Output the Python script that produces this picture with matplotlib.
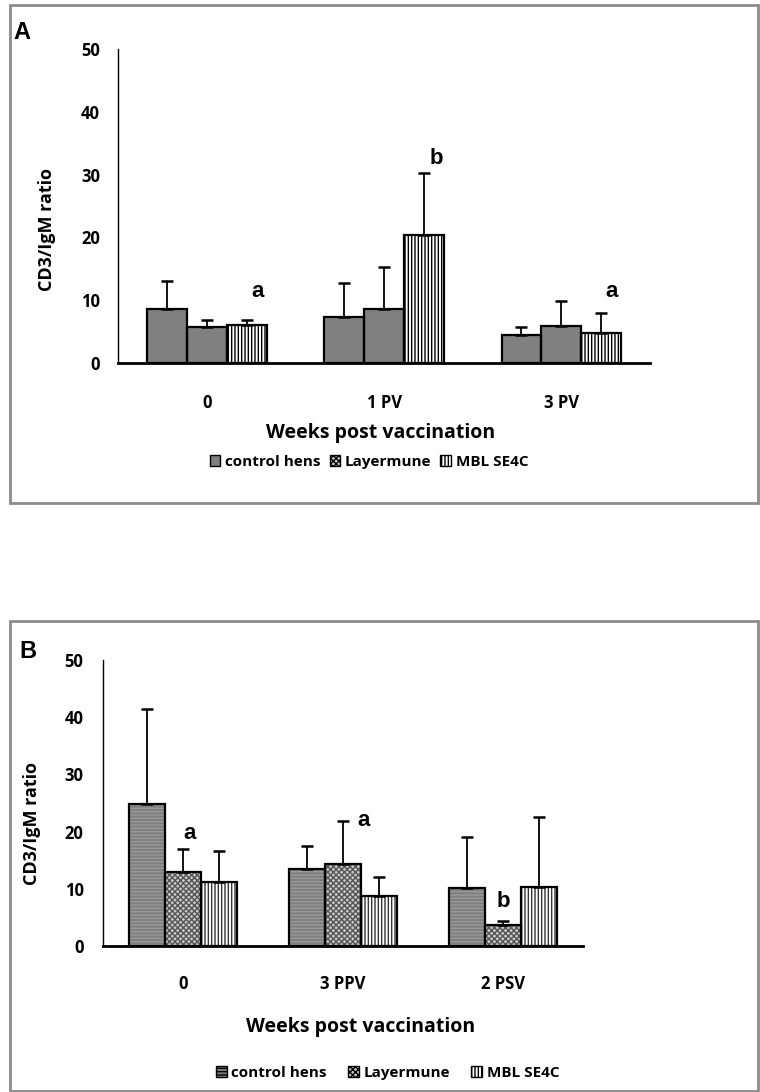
import matplotlib
matplotlib.use("Agg")
import matplotlib.pyplot as plt
from matplotlib.patches import Patch, Rectangle
import numpy as np

# Data - panel A
groups_a = ["0", "1 PV", "3 PV"]
control_a = [8.6, 7.35, 4.5]
control_a_sd = [4.4, 5.35, 1.25]
layer_a = [5.75, 8.6, 5.85]
layer_a_sd = [1.15, 6.7, 4.0]
mbl_a = [6.1, 20.4, 4.85]
mbl_a_sd = [0.8, 9.8, 3.15]
# (group, series, letter, y)
letters_a = [(0, 2, "a", 11.4), (1, 2, "b", 32.6), (2, 2, "a", 11.4)]

# Data - panel B
groups_b = ["0", "3 PPV", "2 PSV"]
control_b = [24.8, 13.5, 10.1]
control_b_sd = [16.6, 3.9, 9.0]
layer_b = [12.9, 14.3, 3.7]
layer_b_sd = [4.0, 7.6, 0.6]
mbl_b = [11.2, 8.7, 10.4]
mbl_b_sd = [5.4, 3.4, 12.2]
letters_b = [(0, 1, "a", 19.6), (1, 1, "a", 22.0), (2, 1, "b", 7.8)]

series_names = ["control hens", "Layermune", "MBL SE4C"]

# fill styles (face, hatch colour, hatch)
styles_a = [("#808080", "#808080", None),
            ("#808080", "#808080", None),
            ("white", "black", "|||||")]
legend_a = [("#808080", "#808080", None),
            ("#c8c8c8", "#555555", "xxxxxx"),
            ("white", "black", "|||||")]
styles_b = [("#7f7f7f", "#999999", "-----"),
            ("#c8c8c8", "#555555", "xxxxxx"),
            ("white", "#333333", "|||||")]

tick_font = "Open Sans"
letter_font = "Liberation Sans"
width = 0.225


def draw_panel(ax, groups, means, sds, styles, letters, letter_dx):
    x = np.arange(len(groups))
    for i, (m, s, st) in enumerate(zip(means, sds, styles)):
        pos = x + (i - 1) * width
        face, hcol, hatch = st
        ax.bar(pos, m, width, color=face, edgecolor=hcol, hatch=hatch, linewidth=0, zorder=2)
        ax.bar(pos, m, width, fill=False, edgecolor="black", linewidth=1.6, zorder=3)
        ax.errorbar(pos, m, yerr=[np.zeros(len(m)), s], fmt="none", ecolor="black",
                    elinewidth=1.3, capsize=4.5, capthick=1.8, zorder=4)
    for g, sidx, txt, yv in letters:
        ax.text(g + (sidx - 1) * width + letter_dx[(g, sidx)], yv, txt, ha="center", va="center",
                fontsize=16, fontweight="bold", family=letter_font, zorder=5)
    ax.set_ylim(0, 50)
    ax.set_xlim(-0.5, len(groups) - 0.5)
    ax.set_yticks(range(0, 51, 10))
    ax.set_xticks(x)
    ax.set_xticklabels(groups)
    ax.spines["top"].set_visible(False)
    ax.spines["right"].set_visible(False)
    ax.spines["left"].set_linewidth(1.0)
    ax.spines["bottom"].set_linewidth(2.0)
    for lab in ax.get_xticklabels() + ax.get_yticklabels():
        lab.set_fontweight("bold")
        lab.set_family(tick_font)
        lab.set_fontsize(12)


def legend_handles(styles):
    hs = []
    for (face, hcol, hatch), name in zip(styles, series_names):
        hs.append(Patch(facecolor=face, edgecolor="black", hatch=hatch, linewidth=1.0, label=name))
    return hs


fig = plt.figure(figsize=(7.6, 10.92), dpi=100)

# frames
fig.patches.append(Rectangle((0.013, 0.539), 0.984, 0.456, transform=fig.transFigure,
                             fill=False, edgecolor="#8c8c8c", linewidth=2))
fig.patches.append(Rectangle((0.013, 0.001), 0.984, 0.430, transform=fig.transFigure,
                             fill=False, edgecolor="#8c8c8c", linewidth=2))

# Panel A
ax1 = fig.add_axes([0.1553, 0.6676, 0.700, 0.2875])
draw_panel(ax1, groups_a, [control_a, layer_a, mbl_a], [control_a_sd, layer_a_sd, mbl_a_sd],
           styles_a, letters_a, {(0, 2): 0.06, (1, 2): 0.07, (2, 2): 0.06})
ax1.tick_params(axis="x", length=0, pad=22)
ax1.tick_params(axis="y", length=0, pad=13)
ax1.text(-0.133, 0.424, "CD3/IgM ratio", transform=ax1.transAxes, rotation=90,
         ha="center", va="center", fontsize=13, fontweight="bold", family=tick_font)
ax1.text(0.494, -0.223, "Weeks post vaccination", transform=ax1.transAxes,
         ha="center", va="center", fontsize=14, fontweight="bold", family=tick_font)
fig.text(0.029, 0.970, "A", fontsize=17, fontweight="bold", family=letter_font, ha="center", va="center")
fig.legend(handles=legend_handles(legend_a), loc="center", bbox_to_anchor=(0.4855, 0.5769), ncol=3,
           frameon=False, prop={"family": tick_font, "weight": "bold", "size": 11},
           handlelength=0.7, handleheight=0.7, handletextpad=0.3, columnspacing=0.6)

# Panel B
ax2 = fig.add_axes([0.1355, 0.1337, 0.6316, 0.2619])
draw_panel(ax2, groups_b, [control_b, layer_b, mbl_b], [control_b_sd, layer_b_sd, mbl_b_sd],
           styles_b, letters_b, {(0, 1): 0.04, (1, 1): 0.13, (2, 1): 0.0})
ax2.tick_params(axis="x", length=0, pad=21)
ax2.tick_params(axis="y", length=0, pad=14)
ax2.text(-0.148, 0.43, "CD3/IgM ratio", transform=ax2.transAxes, rotation=90,
         ha="center", va="center", fontsize=13, fontweight="bold", family=tick_font)
fig.text(0.475, 0.0595, "Weeks post vaccination", ha="center", va="center",
         fontsize=14, fontweight="bold", family=tick_font)
fig.text(0.037, 0.403, "B", fontsize=17, fontweight="bold", family=letter_font, ha="center", va="center")
fig.legend(handles=legend_handles(styles_b), loc="center", bbox_to_anchor=(0.51, 0.0174), ncol=3,
           frameon=False, prop={"family": tick_font, "weight": "bold", "size": 11},
           handlelength=0.7, handleheight=0.7, handletextpad=0.3, columnspacing=1.4)

fig.savefig("out.png", dpi=100)
